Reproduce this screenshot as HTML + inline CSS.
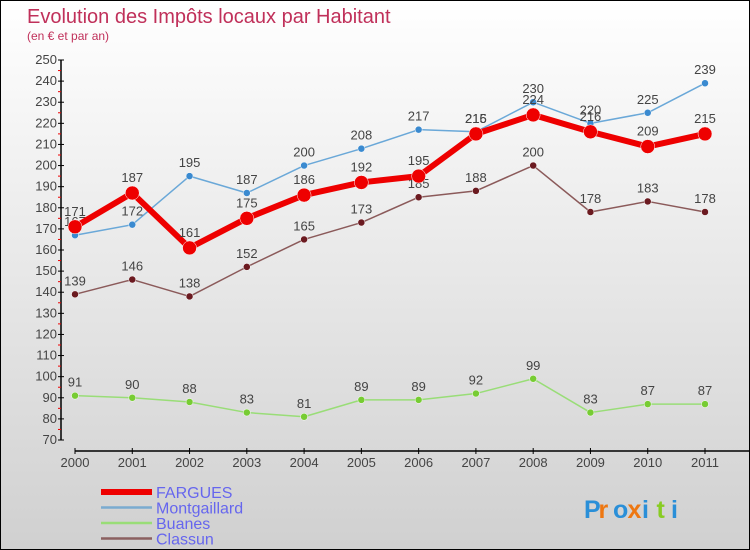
<!DOCTYPE html>
<html><head><meta charset="utf-8"><style>
body{margin:0}
#wrap{width:748px;height:548px;border:1px solid #000;background:linear-gradient(#fff,#d0d0d0);position:relative;font-family:"Liberation Sans",sans-serif;overflow:hidden}
</style></head><body>
<div id="wrap">
<svg id="c" width="748" height="548"></svg>
</div>
<script>
const years=["2000","2001","2002","2003","2004","2005","2006","2007","2008","2009","2010","2011"];
const fargues=[171,187,161,175,186,192,195,215,224,216,209,215];
const montgaillard=[167,172,195,187,200,208,217,216,230,220,225,239];
const buanes=[91,90,88,83,81,89,89,92,99,83,87,87];
const classun=[139,146,138,152,165,173,185,188,200,178,183,178];
const yTicks=[70,80,90,100,110,120,130,140,150,160,170,180,190,200,210,220,230,240,250];
const NS="http://www.w3.org/2000/svg";
const svg=document.getElementById('c');
const X=i=>74+i*(630/11);
const Y=v=>439-(v-70)*(380/180);
function el(t,a,p){const e=document.createElementNS(NS,t);for(const k in a)e.setAttribute(k,a[k]);(p||svg).appendChild(e);return e;}
function txt(x,y,s,a){const e=el('text',Object.assign({x:x,y:y},a));e.textContent=s;return e;}
let t=txt(26,22,"Evolution des Impôts locaux par Habitant",{fill:"#c0305a","font-size":"20"});

t=txt(26,39,"(en € et par an)",{fill:"#c0305a","font-size":"12"});

let ax=el('g',{});
el('line',{x1:60,y1:Y(250),x2:60,y2:Y(70),stroke:"#000","stroke-width":1.5},ax);
yTicks.forEach((v,i)=>{el('line',{x1:57,y1:Y(v),x2:63,y2:Y(v),stroke:"#000"},ax);
 let l=txt(56,Y(v)+4,String(v),{fill:"#444","font-size":"13","text-anchor":"end"});ax.appendChild(l);
 if(i<yTicks.length-1)el('line',{x1:57,y1:Y(v+5),x2:60,y2:Y(v+5),stroke:"#e00"},ax);});
let xa=el('g',{});
el('line',{x1:74,y1:450,x2:748,y2:450,stroke:"#000","stroke-width":1.5},xa);
years.forEach((y,i)=>{el('line',{x1:X(i),y1:447,x2:X(i),y2:453,stroke:"#000"},xa);
 let l=txt(X(i),466,y,{fill:"#444","font-size":"13","text-anchor":"middle"});xa.appendChild(l);});
function series(name,data,color,w,r,dot,lab){
 const g=el('g',{});
 el('polyline',{points:data.map((v,i)=>X(i)+','+Y(v)).join(' '),fill:"none",stroke:color,"stroke-width":w,"stroke-linejoin":"round"},g);
 data.forEach((v,i)=>{const c=el('circle',{cx:X(i),cy:Y(v),r:r,fill:dot,stroke:"#fff","stroke-width":0.5},g);
  
  const l=txt(X(i),Y(v)-(lab||9),String(v),{fill:"#444","font-size":"13","text-anchor":"middle"});g.appendChild(l);});
}
series('classun',classun,"#8b5a5a",1.5,3.5,"#6b1a20");
series('buanes',buanes,"#99dd77",1.5,3.5,"#77cc33");
series('montgaillard',montgaillard,"#6aa8d8",1.5,3.5,"#3a8ad0");
series('fargues',fargues,"#ee0000",6,7,"#ee0000",11);
const leg=[["FARGUES","#ee0000",6],["Montgaillard","#7aabd0",2.5],["Buanes","#99dd77",2.5],["Classun","#8b6060",2.5]];
leg.forEach((d,i)=>{const g=el('g',{});
 const yy=491+i*15.5;el('line',{x1:100,y1:yy,x2:151,y2:yy,stroke:d[1],"stroke-width":d[2]},g);
 const l=txt(155,yy+6,d[0],{fill:"#6666ee","font-size":"16"});g.appendChild(l);});
const lg=el('g',{});
const cols=["#2a8fd8","#ee7711","#2a8fd8","#ee7711","#2a8fd8","#88cc22","#2a8fd8"];
"Proxiti".split('').forEach((ch,i)=>{const l=txt(583+i*14.5,517,ch,{fill:cols[i],"font-size":"25","font-weight":"bold"});lg.appendChild(l);});
</script>
</body></html>
